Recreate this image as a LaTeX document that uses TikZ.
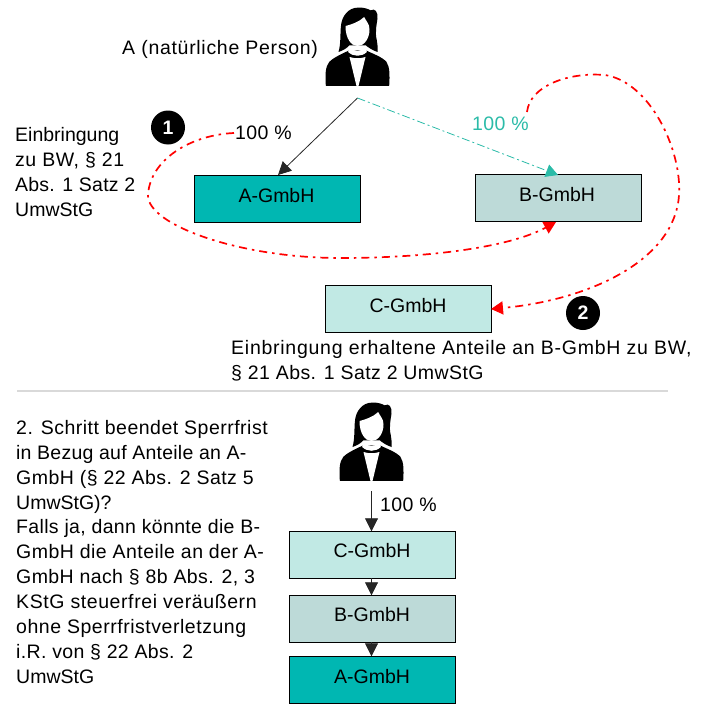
\documentclass[tikz,border=0pt]{standalone}
\usepackage{fontspec}
\setmainfont{Liberation Sans}
\usetikzlibrary{arrows.meta}
\definecolor{tealA}{HTML}{00B7B2}
\definecolor{tealB}{HTML}{BDDAD8}
\definecolor{tealC}{HTML}{C1E9E4}
\definecolor{tealL}{HTML}{2BBBA8}
\definecolor{redL}{HTML}{FF0000}
\newcommand{\ls}[1]{\addfontfeature{LetterSpace=#1}}
\newcommand{\personicon}[2]{%
 \begin{scope}[shift={(#1,#2)},x=0.3333pt,y=-0.3333pt]
  % jacket
  \fill[black] (-95,222) .. controls (-97,190) and (-97,165) .. (-85,150)
    .. controls (-70,135) and (-45,125) .. (-25,115) -- (25,115)
    .. controls (45,125) and (75,135) .. (87,150)
    .. controls (97,165) and (97,190) .. (95,222) -- cycle;
  % hair
  \fill[black] (-57,120) .. controls (-50,95) and (-52,70) .. (-50,45)
    .. controls (-48,10) and (-25,-13) .. (0,-13)
    .. controls (15,-15) and (30,-10) .. (40,-5)
    .. controls (52,-13) and (62,0) .. (60,20)
    .. controls (57,40) and (52,60) .. (58,85)
    .. controls (60,100) and (62,110) .. (60,120)
    .. controls (45,115) and (30,105) .. (25,100) -- (-25,100)
    .. controls (-30,108) and (-45,116) .. (-57,120) -- cycle;
  % face
  \fill[white] (-36,42) .. controls (-20,38) and (5,30) .. (20,15)
    .. controls (26,28) and (36,35) .. (36,52)
    .. controls (36,80) and (20,102) .. (0,102)
    .. controls (-20,102) and (-36,78) .. (-36,42) -- cycle;
  % collar
  \fill[white] (-25,106) .. controls (-12,120) and (12,120) .. (25,106) -- (28,120)
    .. controls (12,135) and (-12,135) .. (-28,120) -- cycle;
  % shirt
  \fill[white] (-24,135) .. controls (-10,140) and (10,140) .. (24,135) -- (3,222) -- (-3,222) -- cycle;
 \end{scope}}
\tikzset{
 box/.style={draw=black,line width=0.9pt,minimum width=166pt,minimum height=47pt,inner sep=0pt,outer sep=0pt,anchor=north west},
 boxtext/.style={font=\fontsize{19.5}{22}\selectfont,inner sep=0pt},
 lbl/.style={font=\fontsize{19.5}{24.9}\selectfont,inner sep=0pt,anchor=north west,align=left},
 badge/.style={circle,fill=black,text=white,minimum size=34pt,inner sep=0pt,font=\bfseries\fontsize{19.5}{22}\selectfont},
 redarrow/.style={draw=redL,line width=1.7pt,dash pattern=on 8pt off 5pt on 2.5pt off 5pt,-{Triangle[length=12pt,width=13pt]}},
 blk/.style={draw=black!85,line width=0.8pt,-{Triangle[length=13pt,width=13pt,fill=black!85]}},
}
\begin{document}
\begin{tikzpicture}[x=1pt,y=-1pt]
\useasboundingbox (0,0) rectangle (709,704);
% icons
\personicon{357.5}{12}
\personicon{371.5}{407}
\coordinate (top) at (357.5,98);
% top boxes
\node[box,fill=tealA] (A) at (194.3,175.3) {};
\node[boxtext] at (276.5,195.5) {A-GmbH};
\node[box,fill=tealB] (B) at (475.3,174.3) {};
\node[boxtext] at (557,194.5) {B-GmbH};
\node[box,fill=tealC] (C) at (325.3,285.3) {};
\node[boxtext] at (408,305.5) {C-GmbH};
% labels
\node[lbl] (t1) at (122,40) {\ls{3.6}A (natürliche Person)};
\node[lbl] (t2) at (15,127) {Einbringung\\{\ls{2.8}zu BW, § 21}\\{\ls{1.2}Abs. 1 Satz 2}\\UmwStG};
\node[lbl] (p1) at (235,125.5) {\ls{2}100 \%};
\node[lbl,text=tealL] (p2) at (472,117) {\ls{2}100 \%};
\node[badge] (b1) at (168,127.5) {1};
\node[badge] (b2) at (583,313) {2};
\node[lbl] (t3) at (231,340) {{\ls{3.8}Einbringung erhaltene Anteile an B-GmbH zu BW,}\\{\ls{2.2}§ 21 Abs. 1 Satz 2 UmwStG}};
% connectors
\draw[blk] (top) -- (278,175);
\draw[draw=tealL,line width=0.8pt,dash pattern=on 8pt off 3pt on 2pt off 3pt,-{Triangle[length=12pt,width=13pt,fill=tealL]}] (top) -- (558,175);
\coordinate (r1) at (234,133);
\draw[redarrow] (r1) .. controls (190,135) and (150,160) .. (148,195)
  .. controls (147,225) and (240,258) .. (340,258)
  .. controls (430,258) and (510,247) .. (556,222);
\coordinate (r2) at (527,112);
\draw[redarrow] (r2) .. controls (530,85) and (570,72) .. (605,75)
  .. controls (650,82) and (682,150) .. (679,195)
  .. controls (675,260) and (590,300) .. (491,309);
% divider
\coordinate (d1) at (17,391);
\coordinate (d2) at (668,391);
\draw[draw=black!15,line width=2pt] (d1) -- (d2);
% lower
\node[lbl] (t4) at (16,420) {{\ls{2.5}2. Schritt beendet Sperrfrist}\\{\ls{1.2}in Bezug auf Anteile an A-}\\{\ls{2.4}GmbH (§ 22 Abs. 2 Satz 5}\\UmwStG)?\\{\ls{1.8}Falls ja, dann könnte die B-}\\{\ls{2.4}GmbH die Anteile an der A-}\\{\ls{2.1}GmbH nach § 8b Abs. 2, 3}\\{\ls{3}KStG steuerfrei veräußern}\\{\ls{2.7}ohne Sperrfristverletzung}\\{\ls{1.8}i.R. von § 22 Abs. 2}\\UmwStG};
\node[box,fill=tealC] (C2) at (289.3,531.3) {};
\node[boxtext] at (372,551) {C-GmbH};
\node[box,fill=tealB] (B2) at (289.3,595.3) {};
\node[boxtext] at (372,615) {B-GmbH};
\node[box,fill=tealA] (A2) at (289.3,656.3) {};
\node[boxtext] at (372,677) {A-GmbH};
\node[lbl] (p3) at (380,498) {\ls{2}100 \%};
\coordinate (p4) at (371.5,491);
\draw[blk] (p4) -- (C2.north -| p4);
\draw[blk] (C2.south -| p4) -- (B2.north -| p4);
\draw[blk] (B2.south -| p4) -- (A2.north -| p4);
\end{tikzpicture}
\end{document}
